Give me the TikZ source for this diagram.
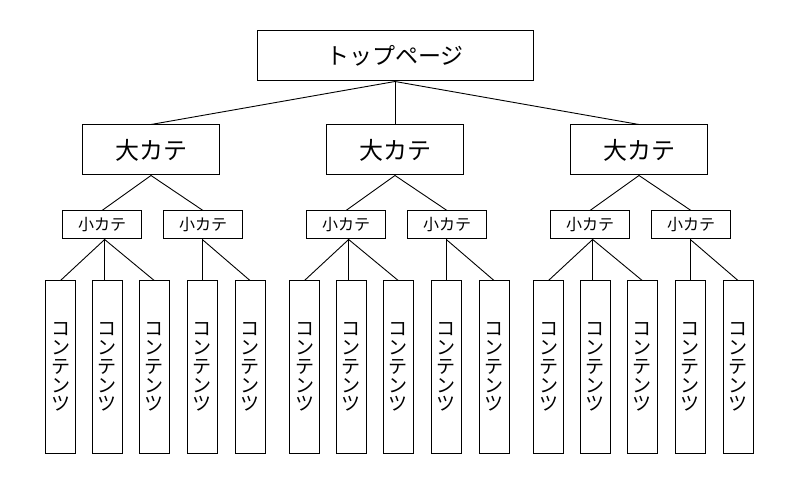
\documentclass[tikz,border=0pt]{standalone}
\usepackage{fontspec}
\setmainfont{Noto Sans CJK JP}
\usetikzlibrary{calc}
\tikzset{
  box/.style={draw=black, line width=1pt, fill=white, inner sep=0pt, anchor=center},
  topbox/.style={box, minimum width=276pt, minimum height=50pt, font=\fontsize{23}{23}\selectfont},
  bigbox/.style={box, minimum width=137pt, minimum height=50pt, font=\fontsize{24}{24}\selectfont},
  smallbox/.style={box, minimum width=79pt, minimum height=28pt, font=\fontsize{16}{16}\selectfont},
  contentbox/.style={box, minimum width=30pt, minimum height=172pt, align=center, font=\fontsize{19}{18.8}\selectfont},
  conn/.style={draw=black, line width=0.9pt}
}
\begin{document}
\begin{tikzpicture}[x=1pt,y=-1pt]
\useasboundingbox[fill=white] (0,0) rectangle (790,478);
\node[topbox] (top) at (395,56) {トップページ\hspace{14pt}};
\foreach \g/\dx in {1/0,2/244,3/488}{
  \node[bigbox] (b\g) at ({151+\dx},150) {大カテ};
  \node[smallbox] (s\g a) at ({102+\dx},225) {小カテ};
  \node[smallbox] (s\g b) at ({203+\dx},225) {小カテ};
  \node[contentbox] (c\g a) at ({60.5+\dx},367) {コ\\ン\\テ\\ン\\ツ};
  \node[contentbox] (c\g b) at ({107.3+\dx},367) {コ\\ン\\テ\\ン\\ツ};
  \node[contentbox] (c\g c) at ({154.2+\dx},367) {コ\\ン\\テ\\ン\\ツ};
  \node[contentbox] (c\g d) at ({202.3+\dx},367) {コ\\ン\\テ\\ン\\ツ};
  \node[contentbox] (c\g e) at ({250+\dx},367) {コ\\ン\\テ\\ン\\ツ};
  \draw[conn] (top.south) -- (b\g.north);
  \draw[conn] (b\g.south) -- (s\g a.north);
  \draw[conn] (b\g.south) -- (s\g b.north);
  \coordinate (j\g a) at ($(s\g a.south)!0.5!(c\g b.north |- s\g a.south)$);
  \coordinate (j\g b) at (c\g d.north |- s\g b.south);
  \draw[conn] (j\g a) -- (c\g a.north);
  \draw[conn] (j\g a) -- (j\g a |- c\g b.north);
  \draw[conn] (j\g a) -- (c\g c.north);
  \draw[conn] (j\g b) -- (c\g d.north);
  \draw[conn] (j\g b) -- (c\g e.north);
}
\end{tikzpicture}
\end{document}
